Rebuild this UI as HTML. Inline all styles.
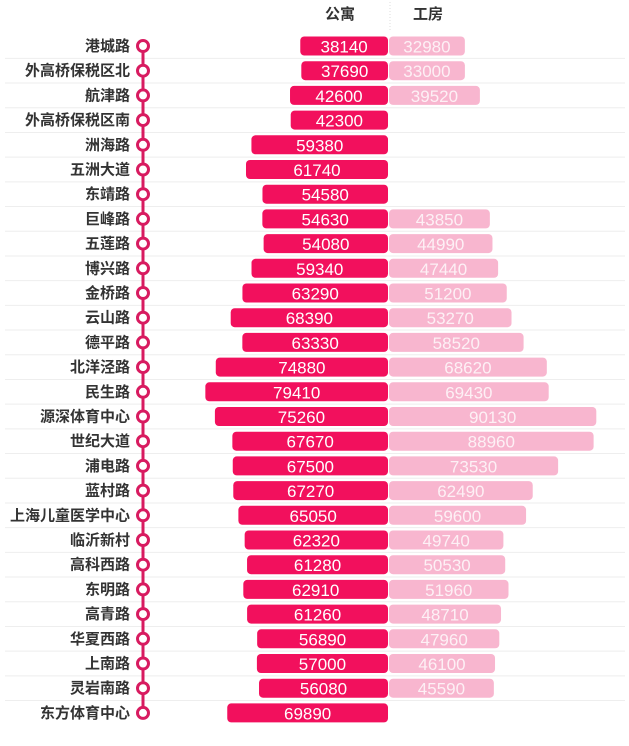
<!DOCTYPE html>
<html><head><meta charset="utf-8"><style>
body{margin:0;background:#fff;}
svg text{font-family:"Liberation Sans","Noto Sans CJK SC",sans-serif;}
</style></head><body>
<svg id="chart" width="629" height="741"></svg>
<script>
const stations=["港城路","外高桥保税区北","航津路","外高桥保税区南","洲海路","五洲大道","东靖路","巨峰路","五莲路","博兴路","金桥路","云山路","德平路","北洋泾路","民生路","源深体育中心","世纪大道","浦电路","蓝村路","上海儿童医学中心","临沂新村","高科西路","东明路","高青路","华夏西路","上南路","灵岩南路","东方体育中心"];
const apartment=[38140,37690,42600,42300,59380,61740,54580,54630,54080,59340,63290,68390,63330,74880,79410,75260,67670,67500,67270,65050,62320,61280,62910,61260,56890,57000,56080,69890];
const workerHousing=[32980,33000,39520,null,null,null,null,43850,44990,47440,51200,53270,58520,68620,69430,90130,88960,73530,62490,59600,49740,50530,51960,48710,47960,46100,45590,null];
const headers=["公寓","工房"];

const NS="http://www.w3.org/2000/svg";
const svg=document.getElementById('chart');
const centerX=388, scale=0.0023, y0=46, step=24.7, barH=19, lineX=143;
const yPos=i=>y0+i*step;
const wOf=v=>v*scale;
function mk(tag,attrs,parent){const e=document.createElementNS(NS,tag);for(const k in attrs)e.setAttribute(k,attrs[k]);(parent||svg).appendChild(e);return e;}

const h1=mk('text',{x:340,y:19,'font-size':15,'font-weight':'bold','text-anchor':'middle',fill:'#333'});


h1.textContent=headers[0];
const h2=mk('text',{x:428,y:19,'font-size':15,'font-weight':'bold','text-anchor':'middle',fill:'#333'});


h2.textContent=headers[1];
mk('line',{x1:390,y1:2,x2:390,y2:30,stroke:'#ddd','stroke-dasharray':'1,2'});

stations.forEach((s,i)=>{
  if(i>0){const l=mk('line',{x1:5,x2:625,y1:yPos(i)-step/2,y2:yPos(i)-step/2,stroke:'#eee','stroke-width':1});
  
  }
});
const ml=mk('line',{x1:lineX,x2:lineX,y1:yPos(0),y2:yPos(stations.length-1),stroke:'#d81b60','stroke-width':3});



stations.forEach((s,i)=>{
  const y=yPos(i);
  const t=mk('text',{x:130,y:y+5,'font-size':15,'font-weight':'bold','text-anchor':'end',fill:'#333'});
  
  
  t.textContent=s;
  const c=mk('circle',{cx:lineX,cy:y,r:5.5,fill:'#fff',stroke:'#d81b60','stroke-width':3});
  
  
  const a=apartment[i];
  if(a!=null){
    const w=wOf(a);
    const b=mk('rect',{x:centerX-w,y:y-barH/2,width:w,height:barH,rx:4,fill:'#f2105d'});
    
    
    const tt=mk('text',{x:centerX-w/2,y:y+6.5,'font-size':17,'text-anchor':'middle',fill:'#fff'});
    
    
    tt.textContent=a;
  }
  const g=workerHousing[i];
  if(g!=null){
    const w=wOf(g);
    const b=mk('rect',{x:centerX+1,y:y-barH/2,width:w,height:barH,rx:4,fill:'#f8b6cf'});
    
    
    const tt=mk('text',{x:centerX+1+w/2,y:y+6.5,'font-size':17,'text-anchor':'middle',fill:'#fdf0f5'});
    
    
    tt.textContent=g;
  }
});
</script>
</body></html>
